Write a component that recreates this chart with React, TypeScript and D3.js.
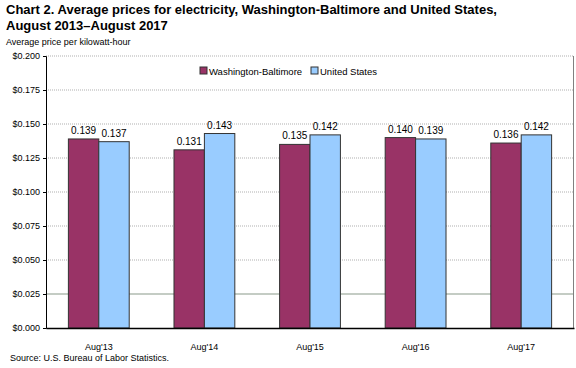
import React, { useRef, useEffect } from "react";
import * as d3 from "d3";

const categories = ["Aug'13", "Aug'14", "Aug'15", "Aug'16", "Aug'17"];
const washBalt = [0.139, 0.131, 0.135, 0.14, 0.136];
const unitedStates = [0.137, 0.143, 0.142, 0.139, 0.142];
const seriesNames = ["Washington-Baltimore", "United States"];
const seriesColors = ["#993366", "#99ccff"];
const yTicks = [0, 0.025, 0.05, 0.075, 0.1, 0.125, 0.15, 0.175, 0.2];

const W = 576;
const H = 368;
const margin = { left: 46, right: 2, top: 56, bottom: 40 };

function App() {
  const svgRef = useRef<SVGSVGElement>(null);

  useEffect(() => {
    const svg = d3.select(svgRef.current);
    svg.selectAll("*").remove();

    const x = d3
      .scaleBand()
      .domain(categories)
      .range([margin.left, W - margin.right]);
    const y = d3
      .scaleLinear()
      .domain([0, 0.2])
      .range([H - margin.bottom, margin.top]);
    const barW = x.bandwidth() * 0.288;

    const font = "Arial, 'Liberation Sans', sans-serif";

    // grid lines
    svg
      .selectAll(".grid")
      .data(yTicks.filter((t) => t > 0))
      .join("line")
      .attr("x1", margin.left)
      .attr("x2", W - margin.right)
      .attr("y1", (d) => y(d))
      .attr("y2", (d) => y(d))
      .attr("stroke", (d) => (d === 0.025 ? "#8a9a8a" : "#b0b0b0"))
      .attr("stroke-dasharray", (d) => (d === 0.025 ? null : "1,1"))
      .attr("stroke-width", 1.2);

    // right border
    svg
      .append("line")
      .attr("x1", W - margin.right - 0.5)
      .attr("x2", W - margin.right - 0.5)
      .attr("y1", y(0.2))
      .attr("y2", y(0))
      .attr("stroke", "#808080");

    // legend
    const legend = svg.append("g").attr("transform", "translate(200,71)");
    seriesNames.forEach((name, i) => {
      const ox = i === 0 ? 0 : 111;
      legend
        .append("rect")
        .attr("x", ox)
        .attr("y", -4)
        .attr("width", 7)
        .attr("height", 7)
        .attr("fill", seriesColors[i])
        .attr("stroke", "#333");
      legend
        .append("text")
        .attr("x", ox + 9)
        .attr("y", 3.5)
        .attr("font-family", font)
        .attr("font-size", 9.5)
        .attr("fill", "#000")
        .text(name);
    });

    const series = [washBalt, unitedStates];
    series.forEach((vals, si) => {
      const g = svg.append("g");
      g.selectAll("rect")
        .data(vals)
        .join("rect")
        .attr("x", (d, i) => x(categories[i])! + x.bandwidth() / 2 - barW + si * barW)
        .attr("y", (d) => y(d))
        .attr("width", barW)
        .attr("height", (d) => y(0) - y(d))
        .attr("fill", seriesColors[si])
        .attr("stroke", "#333")
        .attr("stroke-width", 1);
      g.selectAll("text")
        .data(vals)
        .join("text")
        .attr("x", (d, i) => x(categories[i])! + x.bandwidth() / 2 - barW / 2 + si * barW)
        .attr("y", (d) => y(d) - 5)
        .attr("text-anchor", "middle")
        .attr("font-family", font)
        .attr("font-size", 10)
        .text((d) => d.toFixed(3));
    });

    // y axis
    const yAxis = d3
      .axisLeft(y)
      .tickValues(yTicks)
      .tickSize(3)
      .tickFormat((d) => "$" + (d as number).toFixed(3));
    const ya = svg
      .append("g")
      .attr("transform", `translate(${margin.left},0)`)
      .call(yAxis);
    ya.select(".domain").attr("stroke", "#000");
    ya.selectAll(".tick line").attr("stroke", "#000");
    ya.selectAll(".tick text")
      .attr("font-family", font)
      .attr("font-size", 9)
      .attr("fill", "#000")
      .attr("dx", 0);

    // x axis
    const xAxis = d3.axisBottom(x).tickSize(0).tickPadding(16);
    const xa = svg
      .append("g")
      .attr("transform", `translate(0,${y(0)})`)
      .call(xAxis);
    xa.select(".domain").attr("stroke", "#000").attr("stroke-width", 1.5);
    xa.selectAll(".tick text")
      .attr("font-family", font)
      .attr("font-size", 9)
      .attr("fill", "#000");

    // titles
    svg
      .append("text")
      .attr("x", 6)
      .attr("y", 14)
      .attr("font-family", font)
      .attr("font-size", 13)
      .attr("font-weight", "bold")
      .text("Chart 2. Average prices for electricity, Washington-Baltimore and United States,");
    svg
      .append("text")
      .attr("x", 6)
      .attr("y", 30)
      .attr("font-family", font)
      .attr("font-size", 13)
      .attr("font-weight", "bold")
      .text("August 2013\u2013August 2017");
    svg
      .append("text")
      .attr("x", 6)
      .attr("y", 45)
      .attr("font-family", font)
      .attr("font-size", 9)
      .text("Average price per kilowatt-hour");
    svg
      .append("text")
      .attr("x", 10)
      .attr("y", 361)
      .attr("font-family", font)
      .attr("font-size", 9)
      .text("Source: U.S. Bureau of Labor Statistics.");
  }, []);

  return (
    <svg
      ref={svgRef}
      width={W}
      height={H}
      style={{ position: "absolute", left: 0, top: 0, background: "#fff" }}
    />
  );
}

export default App;
